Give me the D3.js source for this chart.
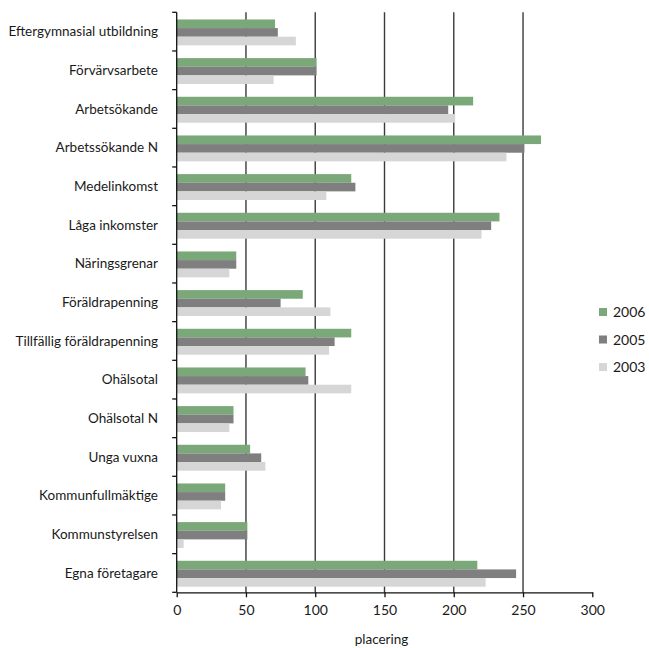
<!DOCTYPE html>
<html><head><meta charset="utf-8">
<script src="https://cdn.jsdelivr.net/npm/d3@7"></script>
<style>body{margin:0;background:#fff}svg{display:block}text{font-family:Lato,"Open Sans",sans-serif;fill:#1a1a1a}</style>
</head><body>
<script>
const categories = ["Eftergymnasial utbildning","Förvärvsarbete","Arbetsökande","Arbetssökande N","Medelinkomst","Låga inkomster","Näringsgrenar","Föräldrapenning","Tillfällig föräldrapenning","Ohälsotal","Ohälsotal N","Unga vuxna","Kommunfullmäktige","Kommunstyrelsen","Egna företagare"];
const seriesNames = ["2006","2005","2003"];
const v2006 = [71,101,214,263,126,233,43,91,126,93,41,53,35,51,217];
const v2005 = [73,101,196,251,129,227,43,75,114,95,41,61,35,51,245];
const v2003 = [86,70,201,238,108,220,38,111,110,126,38,64,32,5,223];
const xTicks = [0,50,100,150,200,250,300];
const colors = ["#7aa878","#7f7f7f","#d6d6d6"];
const xTitle = "placering";

const W=649,H=648;
const svg=d3.select("body").append("svg").attr("width",W).attr("height",H);
const x=d3.scaleLinear().domain([0,300]).range([176.7,592.3]);
const y=d3.scaleBand().domain(categories).range([12.3,592.3]).paddingInner(0.33).paddingOuter(0.165).align(0.56);
const ys=d3.scaleBand().domain(seriesNames).range([0,y.bandwidth()]);
const vals=[v2006,v2005,v2003];

// gridlines
svg.append("g").selectAll("line").data(xTicks.filter(t=>t>0&&t<300)).join("line")
 .attr("x1",d=>x(d)).attr("x2",d=>x(d)).attr("y1",12.3).attr("y2",592.3)
 .attr("stroke","#3a3a3a").attr("stroke-width",1.4);

// bars
const g=svg.append("g");
categories.forEach((c,i)=>{
  seriesNames.forEach((s,j)=>{
    g.append("rect").attr("x",x(0)).attr("y",y(c)+ys(s)).attr("height",ys.bandwidth())
     .attr("width",x(vals[j][i])-x(0)).attr("fill",colors[j]);
  });
});

// y axis
const bounds=d3.range(categories.length+1).map(i=>12.3+i*(580/categories.length));
svg.append("line").attr("x1",x(0)).attr("x2",x(0)).attr("y1",12.3).attr("y2",592.3).attr("stroke","#111").attr("stroke-width",1.3);
svg.append("g").selectAll("line").data(bounds).join("line")
 .attr("x1",x(0)-4.5).attr("x2",x(0)).attr("y1",d=>d).attr("y2",d=>d).attr("stroke","#111").attr("stroke-width",1.3);
svg.append("g").selectAll("text").data(categories).join("text")
 .attr("x",158).attr("y",(d,i)=>(bounds[i]+bounds[i+1])/2).attr("dy","0.35em")
 .attr("text-anchor","end").attr("font-size",13.5).text(d=>d);

// x axis
const xa=svg.append("g").attr("transform","translate(0,592.3)")
 .call(d3.axisBottom(x).tickValues(xTicks).tickSize(5).tickSizeOuter(0).tickPadding(8));
xa.select(".domain").attr("stroke","#111").attr("stroke-width",1.3);
xa.selectAll(".tick line").attr("stroke","#111").attr("stroke-width",1.3);
xa.selectAll("text").attr("font-size",14).attr("font-family","Lato,sans-serif").attr("fill","#1a1a1a");
svg.append("text").attr("x",x(150)-3).attr("y",644).attr("text-anchor","middle").attr("font-size",13.5).text(xTitle);

// legend
const lg=svg.append("g");
seriesNames.forEach((s,j)=>{
  lg.append("rect").attr("x",599).attr("y",308+j*27.5).attr("width",8).attr("height",8).attr("fill",colors[j]);
  lg.append("text").attr("x",613).attr("y",312+j*27.5).attr("dy","0.36em").attr("font-size",14).text(s);
});
</script>
</body></html>
